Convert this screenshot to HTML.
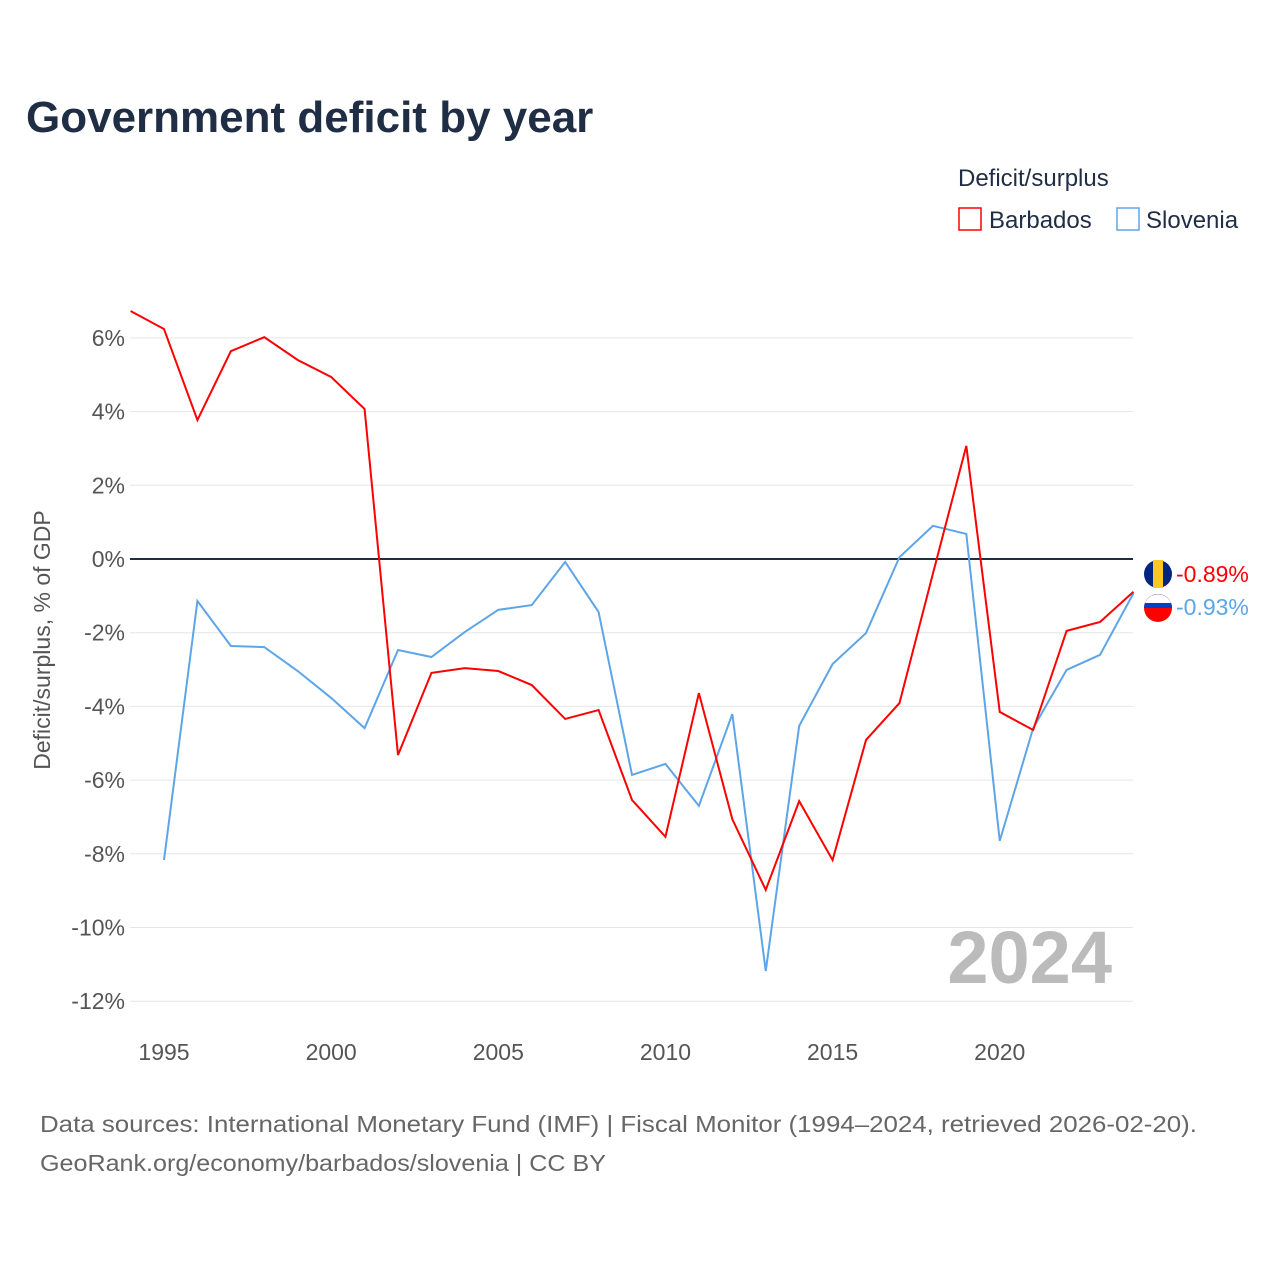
<!DOCTYPE html>
<html><head><meta charset="utf-8"><style>
body{margin:0;background:#fff;font-family:"Liberation Sans",sans-serif;}
svg text{font-family:"Liberation Sans",sans-serif;}
</style></head><body>
<svg id="chart" width="1280" height="1280" viewBox="0 0 1280 1280">
<text x="26" y="132" font-size="44" font-weight="bold" fill="#1f2d45">Government deficit by year</text>
<text x="958" y="186" font-size="24" fill="#1f2d45">Deficit/surplus</text>
<g><rect x="959" y="208" width="22" height="22" fill="none" stroke="#ff0000" stroke-width="1.5"/><text x="989" y="228" font-size="24" fill="#1f2d45">Barbados</text></g>
<g><rect x="1117" y="208" width="22" height="22" fill="none" stroke="#5ea5e8" stroke-width="1.5"/><text x="1146" y="228" font-size="24" fill="#1f2d45">Slovenia</text></g>
<g id="grid"></g>
<g id="yticks"></g>
<g id="xticks"></g>
<text transform="translate(50,640) rotate(-90)" text-anchor="middle" font-size="23" fill="#555">Deficit/surplus, % of GDP</text>
<text x="1112" y="983" text-anchor="end" font-size="74" font-weight="bold" fill="#bbb">2024</text>
<g id="series"></g>
<text x="40" y="1132" font-size="23" fill="#666" textLength="1157" lengthAdjust="spacingAndGlyphs">Data sources: International Monetary Fund (IMF) | Fiscal Monitor (1994–2024, retrieved 2026-02-20).</text>
<text x="40" y="1171" font-size="23" fill="#666" textLength="566" lengthAdjust="spacingAndGlyphs">GeoRank.org/economy/barbados/slovenia | CC BY</text>
</svg>
<script>
const yearsB = [1994,1995,1996,1997,1998,1999,2000,2001,2002,2003,2004,2005,2006,2007,2008,2009,2010,2011,2012,2013,2014,2015,2016,2017,2018,2019,2020,2021,2022,2023,2024];
const barbados = [6.73,6.24,3.77,5.64,6.02,5.40,4.94,4.07,-5.32,-3.09,-2.96,-3.04,-3.42,-4.34,-4.10,-6.54,-7.54,-3.64,-7.06,-8.98,-6.57,-8.17,-4.91,-3.91,-0.4,3.07,-4.15,-4.64,-1.95,-1.71,-0.89];
const yearsS = [1995,1996,1997,1998,1999,2000,2001,2002,2003,2004,2005,2006,2007,2008,2009,2010,2011,2012,2013,2014,2015,2016,2017,2018,2019,2020,2021,2022,2023,2024];
const slovenia = [-8.17,-1.14,-2.36,-2.39,-3.04,-3.77,-4.59,-2.47,-2.66,-1.98,-1.38,-1.25,-0.08,-1.44,-5.86,-5.56,-6.70,-4.21,-11.18,-4.53,-2.85,-2.01,0.05,0.90,0.68,-7.65,-4.59,-3.01,-2.60,-0.93];
const yTicks = [6,4,2,0,-2,-4,-6,-8,-10,-12];
const xTicks = [1995,2000,2005,2010,2015,2020];

const NS="http://www.w3.org/2000/svg";
const X = yr => 164 + (yr-1995)*33.43;
const Y = v => 559 - v*36.85;
function mk(tag, attrs, parent){const e=document.createElementNS(NS,tag);for(const k in attrs)e.setAttribute(k,attrs[k]);parent.appendChild(e);return e;}
const grid=document.getElementById('grid'), yt=document.getElementById('yticks'), xt=document.getElementById('xticks'), ser=document.getElementById('series');
yTicks.forEach(v=>{
  const l=mk('line',{x1:130,x2:1133,y1:Y(v),y2:Y(v),stroke:v===0?'#1f2d45':'#e6e6e6','stroke-width':v===0?2:1},grid);
  
  
  const t=mk('text',{x:125,y:Y(v)+8,'text-anchor':'end','font-size':23,fill:'#555'},yt);
  t.textContent=v+'%';
  
  
});
xTicks.forEach(yr=>{
  const t=mk('text',{x:X(yr),y:1060,'text-anchor':'middle','font-size':23,fill:'#555'},xt);
  t.textContent=yr;
  
  
});
function line(years, vals, color, name){
  const p=mk('polyline',{points:years.map((y,i)=>X(y)+','+Y(vals[i])).join(' '),fill:'none',stroke:color,'stroke-width':2},ser);
  
  
}
line(yearsS, slovenia, '#5ea5e8', 'slovenia-line');
line(yearsB, barbados, '#ff0000', 'barbados-line');
const bLast=barbados[barbados.length-1], sLast=slovenia[slovenia.length-1];
const fb=mk('circle',{cx:1158,cy:574,r:14,fill:'#00267f'},ser);


mk('rect',{x:1153,y:560,width:10,height:28,fill:'#ffc726'},ser);
const fs=mk('circle',{cx:1158,cy:608,r:14,fill:'#ff0000'},ser);


mk('path',{d:'M1144,608 A14,14 0 0 1 1172,608 Z',fill:'#0041c2'},ser);
mk('path',{d:'M1145,603 A14,14 0 0 1 1171,603 Z',fill:'#fff'},ser);
const lb=mk('text',{x:1176,y:582,'font-size':23,fill:'#ff0000'},ser);
lb.textContent=bLast.toFixed(2)+'%';


const ls=mk('text',{x:1176,y:615,'font-size':23,fill:'#5ea5e8'},ser);
ls.textContent=sLast.toFixed(2)+'%';


</script>
</body></html>
